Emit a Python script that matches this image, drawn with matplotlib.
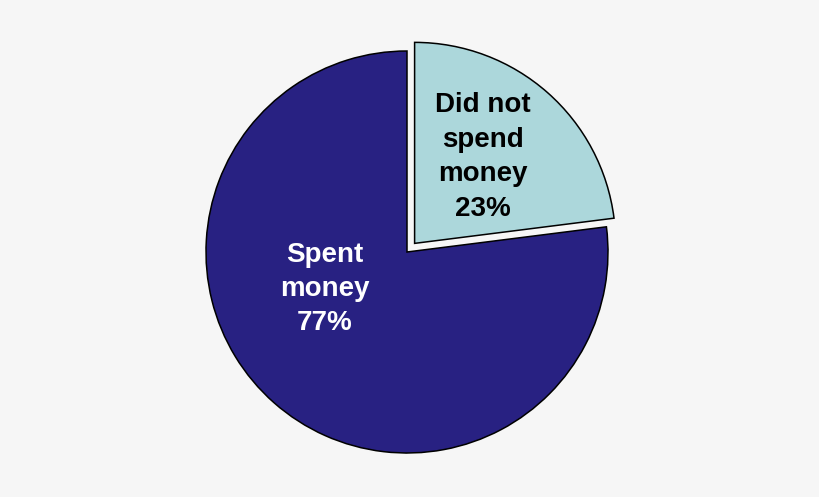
import matplotlib.pyplot as plt

labels = ["Did not\nspend\nmoney\n23%", "Spent\nmoney\n77%"]
values = [23, 77]
colors = ["#acd7db", "#282182"]
text_colors = ["black", "white"]

fig = plt.figure(figsize=(8.2, 4.97), dpi=100, facecolor="#f6f6f6")
ax = fig.add_axes([0, 0, 1, 1])
ax.set_facecolor("#f6f6f6")

# pie centre and radius in pixel units of the figure
cx, cy, r = 407, 245, 201
# explode is an absolute offset here (same units as radius)
wedges, _ = ax.pie(values, colors=colors, startangle=90, counterclock=False,
                   explode=[11.5, 0], center=(cx, cy), radius=r,
                   wedgeprops=dict(edgecolor="black", linewidth=1.1),
                   frame=True)

label_pos = [(483, 340), (325, 208)]
for lab, (x, y), tc in zip(labels, label_pos, text_colors):
    ax.text(x, y, lab, ha="center", va="center", color=tc,
            fontsize=20, fontweight="bold", family="Liberation Sans",
            linespacing=1.42)

ax.set_xlim(0, 820)
ax.set_ylim(0, 497)
ax.set_aspect("equal")
ax.axis("off")

fig.savefig("out.png", dpi=100, facecolor=fig.get_facecolor())
